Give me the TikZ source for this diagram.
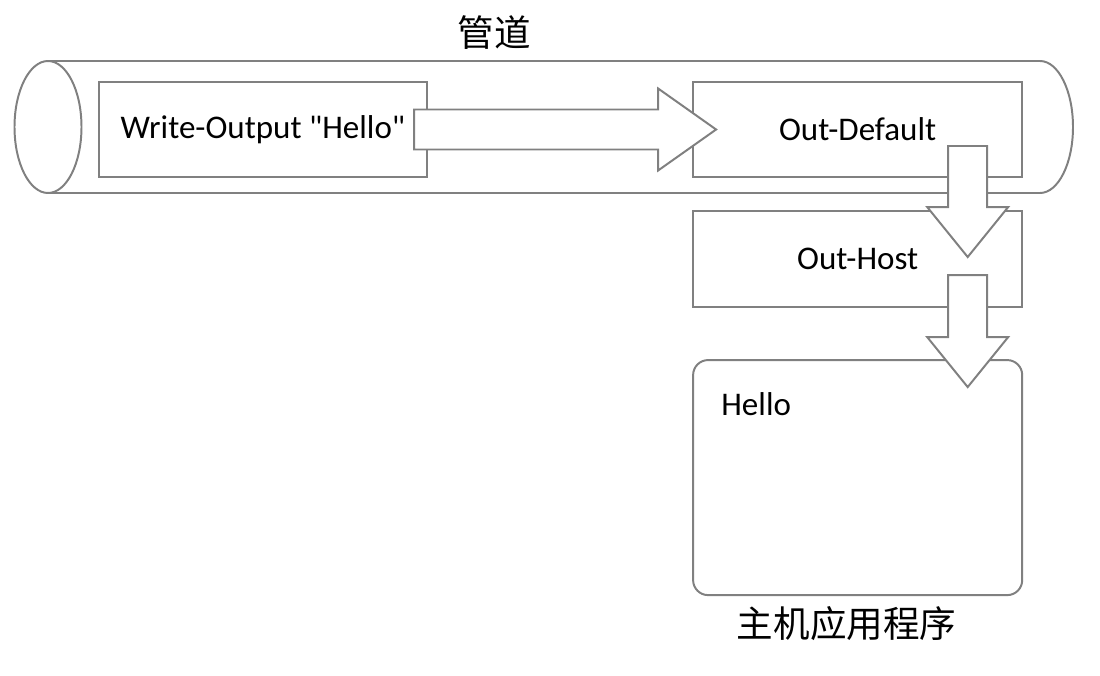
\documentclass[tikz,border=0pt]{standalone}
\usepackage{fontspec}
\setmainfont{Carlito}[Ligatures=TeXOff]
\newfontfamily\cjk{Noto Sans CJK SC}
\usetikzlibrary{positioning,calc}
\definecolor{pipegray}{RGB}{128,128,128}
\tikzset{
  box/.style={draw=pipegray, line width=1.4pt, fill=white, outer sep=0pt,
    minimum width=8.225cm, minimum height=2.375cm, font=\fontsize{23.5}{28}\selectfont},
  blockarrow/.style={draw=pipegray, line width=1.4pt, fill=white, line join=miter},
  cjklabel/.style={font=\cjk\fontsize{26}{30}\selectfont, inner sep=0pt}
}
\newcommand\blockdown[2]{\draw[blockarrow] ($(#1)+(-19.5,0)$) -- ($(#2)+(-19.5,-50)$) -- ($(#2)+(-40.5,-50)$) -- (#2) -- ($(#2)+(40.5,-50)$) -- ($(#2)+(19.5,-50)$) -- ($(#1)+(19.5,0)$) -- cycle;}
\begin{document}
\begin{tikzpicture}[x=0.025cm,y=-0.025cm]
\useasboundingbox[fill=white] (0,0) rectangle (1100,676);
\draw[pipegray, line width=1.4pt] (48,61) -- (1040,61) arc[start angle=-90, end angle=90, x radius=33, y radius=66] -- (48,193);
\draw[pipegray, line width=1.4pt, fill=white] (48,127) ellipse [x radius=33.5, y radius=66];
\node[cjklabel] (pipetitle) at (494,33) {管道};
\node[box, minimum width=8.2cm] (write) at (263,129.5) {Write-Output "Hello"};
\node[box, right=6.65cm of write] (outdefault) {Out-Default};
\node[box, minimum height=2.4cm, below=0.85cm of outdefault] (outhost) {Out-Host};
\node[box, minimum height=5.875cm, rounded corners=0.375cm, below=1.325cm of outhost] (host) {};
\node[anchor=base west, inner sep=0pt, font=\fontsize{23.5}{28}\selectfont] (hellotext) at ($(host.north west)+(28,55)$) {Hello};
\node[cjklabel] (hosttitle) at ($(host.south)+(-11,28)$) {主机应用程序};
\coordinate (a1s) at ($(write.east)+(-13,0)$);
\coordinate (a1t) at ($(outdefault.west)+(23,0)$);
\draw[blockarrow] ($(a1s)+(0,-20)$) -- ($(a1t)+(-58,-20)$) -- ($(a1t)+(-58,-41)$) -- (a1t) -- ($(a1t)+(-58,41)$) -- ($(a1t)+(-58,20)$) -- ($(a1s)+(0,20)$) -- cycle;
\coordinate (d1s) at ($(outdefault.south east)+(-54.5,-31)$);
\coordinate (d1t) at ($(outhost.north east)+(-54.5,46)$);
\blockdown{d1s}{d1t}
\coordinate (d2s) at ($(outhost.south east)+(-54.5,-32)$);
\coordinate (d2t) at ($(host.north east)+(-54.5,27)$);
\blockdown{d2s}{d2t}
\end{tikzpicture}
\end{document}
